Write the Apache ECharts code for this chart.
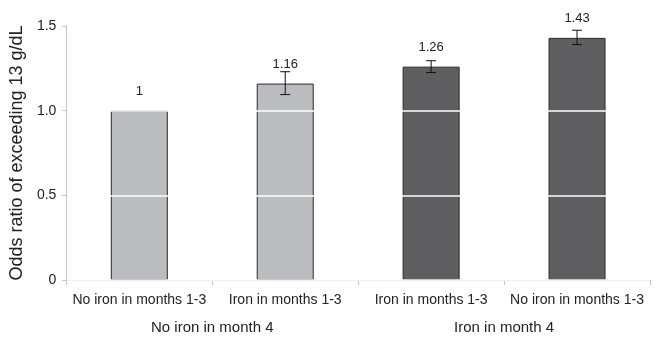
<!DOCTYPE html>
<html><head><meta charset="utf-8">
<script src="https://cdn.jsdelivr.net/npm/echarts@6/dist/echarts.min.js"></script>
<style>html,body{margin:0;padding:0;background:#fff}#c{width:665px;height:337px}</style>
</head><body><div id="c"></div>
<script>
const categories = ['No iron in months 1-3','Iron in months 1-3','Iron in months 1-3','No iron in months 1-3'];
const groups = ['No iron in month 4','Iron in month 4'];
const values = [1, 1.16, 1.26, 1.43];
const errLow = [null, 1.095, 1.225, 1.39];
const errHigh = [null, 1.23, 1.295, 1.475];
const barColors = ['#bbbcbf','#bbbcbf','#5f5f61','#5f5f61'];
const yTicks = [0, 0.5, 1.0, 1.5];

const chart = echarts.init(document.getElementById('c'));
const font = 'Liberation Sans, Arial, sans-serif';
chart.setOption({
  animation: false,
  grid: {left: 66, right: 15, top: 26, bottom: 57, containLabel: false},
  xAxis: [{
    type: 'category', data: categories, position: 'bottom',
    axisLine: {lineStyle: {color: '#c4c4c4', width: 1}},
    axisTick: {show: true, length: 5, lineStyle: {color: '#c4c4c4'}},
    axisLabel: {color: '#222', fontSize: 14, fontFamily: font, margin: 13, interval: 0, hideOverlap: false}
  }, {
    type: 'category', data: groups, position: 'bottom', offset: 27,
    axisLine: {show: false}, axisTick: {show: false},
    axisLabel: {color: '#222', fontSize: 15, fontFamily: font, margin: 13, interval: 0}
  }],
  yAxis: {
    type: 'value', min: 0, max: 1.5, interval: 0.5, z: 5,
    name: 'Odds ratio of exceeding 13 g/dL', nameLocation: 'middle', nameGap: 38, nameRotate: 90,
    nameTextStyle: {color: '#222', fontSize: 18, fontFamily: font},
    axisLine: {show: true, lineStyle: {color: '#c4c4c4'}},
    axisTick: {show: true, length: 4, lineStyle: {color: '#c4c4c4'}},
    axisLabel: {color: '#222', fontSize: 14, fontFamily: font, margin: 10,
      formatter: v => v === 0 ? '0' : v.toFixed(1)},
    splitLine: {show: true, lineStyle: {color: '#ffffff', width: 1.5}}
  },
  series: [{
    type: 'bar', xAxisIndex: 0, barWidth: 57,
    data: values.map((v, i) => ({value: v, itemStyle: {color: barColors[i]}})),
    itemStyle: {borderColor: '#2a2a2a', borderWidth: 1},
    label: {show: true, position: 'top', distance: 13, color: '#222', fontSize: 13, fontFamily: font,
      formatter: p => String(p.value)}
  }, {
    type: 'custom', xAxisIndex: 0, z: 10,
    data: values.map((v, i) => [i, errLow[i], errHigh[i]]).filter(d => d[1] != null),
    renderItem: (params, api) => {
      const x = api.coord([api.value(0), 0])[0];
      const lo = api.coord([api.value(0), api.value(1)])[1];
      const hi = api.coord([api.value(0), api.value(2)])[1];
      const w = 5;
      const st = {stroke: '#111', lineWidth: 1};
      return {type: 'group', children: [
        {type: 'line', shape: {x1: x, y1: lo, x2: x, y2: hi}, style: st},
        {type: 'line', shape: {x1: x - w, y1: lo, x2: x + w, y2: lo}, style: st},
        {type: 'line', shape: {x1: x - w, y1: hi, x2: x + w, y2: hi}, style: st}
      ]};
    }
  }]
});
</script></body></html>
